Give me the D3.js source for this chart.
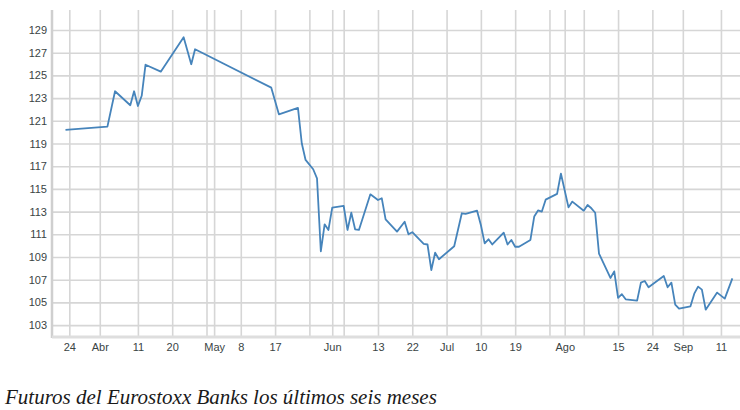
<!DOCTYPE html>
<html><head><meta charset="utf-8">
<script src="https://cdn.jsdelivr.net/npm/d3@7"></script>
<style>
html,body{margin:0;padding:0;background:#fff;}
svg{display:block;}
</style></head>
<body>
<svg id="chart" width="740" height="410"></svg>
<script>
const dates = ["2018-03-23","2018-04-03","2018-04-05","2018-04-09","2018-04-10","2018-04-11","2018-04-12","2018-04-13","2018-04-17","2018-04-23","2018-04-25","2018-04-26","2018-05-16","2018-05-18","2018-05-23","2018-05-24","2018-05-25","2018-05-27","2018-05-28","2018-05-29","2018-05-30","2018-05-31","2018-06-01","2018-06-04","2018-06-05","2018-06-06","2018-06-07","2018-06-08","2018-06-11","2018-06-13","2018-06-14","2018-06-15","2018-06-18","2018-06-20","2018-06-21","2018-06-22","2018-06-25","2018-06-26","2018-06-27","2018-06-28","2018-06-29","2018-07-03","2018-07-05","2018-07-06","2018-07-09","2018-07-10","2018-07-11","2018-07-12","2018-07-13","2018-07-16","2018-07-17","2018-07-18","2018-07-19","2018-07-20","2018-07-23","2018-07-24","2018-07-25","2018-07-26","2018-07-27","2018-07-30","2018-07-31","2018-08-02","2018-08-03","2018-08-06","2018-08-07","2018-08-08","2018-08-09","2018-08-10","2018-08-13","2018-08-14","2018-08-15","2018-08-16","2018-08-17","2018-08-20","2018-08-21","2018-08-22","2018-08-23","2018-08-27","2018-08-28","2018-08-29","2018-08-30","2018-08-31","2018-09-03","2018-09-04","2018-09-05","2018-09-06","2018-09-07","2018-09-10","2018-09-12","2018-09-14"];
const values = [120.19,120.48,123.6,122.37,123.6,122.3,123.2,125.94,125.33,128.36,125.98,127.3,123.92,121.57,122.13,119.02,117.55,116.73,115.93,109.5,111.88,111.38,113.35,113.5,111.38,112.9,111.44,111.38,114.52,114.02,114.17,112.32,111.23,112.11,111.0,111.18,110.15,110.1,107.85,109.38,108.8,109.95,112.85,112.79,113.08,111.82,110.2,110.56,110.1,111.14,110.1,110.5,109.9,109.9,110.5,112.56,113.1,113.0,114.05,114.56,116.35,113.37,113.88,113.08,113.58,113.29,112.9,109.3,107.15,107.73,105.4,105.72,105.27,105.15,106.74,106.88,106.33,107.33,106.33,106.74,104.8,104.45,104.65,105.77,106.39,106.12,104.36,105.86,105.33,107.12];
const tickDates = ["2018-03-24","2018-04-01","2018-04-11","2018-04-20","2018-04-29","2018-05-01","2018-05-08","2018-05-17","2018-05-26","2018-06-01","2018-06-04","2018-06-13","2018-06-22","2018-07-01","2018-07-10","2018-07-19","2018-07-28","2018-08-01","2018-08-06","2018-08-15","2018-08-24","2018-09-01","2018-09-11"];
const tickLabels = ["24","Abr","11","20","","May","8","17","","Jun","","13","22","Jul","10","19","","Ago","","15","24","Sep","11"];
const yTicks = [103,105,107,109,111,113,115,117,119,121,123,125,127,129];
const caption = "Futuros del Eurostoxx Banks los últimos seis meses";

const parse = d3.utcParse("%Y-%m-%d");
const parseT = d3.utcParse("%Y-%m-%dT%H:%M");
const data = dates.map((d,i)=>({date:parse(d), value:values[i]}));

const L = 52, R = 740, T = 10, B = 337;
const svg = d3.select("#chart");

const x = d3.scaleUtc()
  .domain([parseT("2018-03-19T11:00"), parseT("2018-09-16T00:00")])
  .range([L, R]);
const y = d3.scaleLinear().domain([101.95, 130.76]).range([B, T]);

const font = "Arial, 'Liberation Sans', sans-serif";

// horizontal grid + y labels
const yAxis = d3.axisLeft(y).tickValues(yTicks).tickSize(-(R-L)).tickPadding(5).tickFormat(d3.format("d"));
const gy = svg.append("g").attr("transform",`translate(${L},0)`).call(yAxis);
gy.select(".domain").remove();
gy.selectAll(".tick line").attr("stroke","#d6d6d6").attr("stroke-width",1.6);
gy.selectAll(".tick text").attr("fill","#3a4444").attr("font-family",font).attr("font-size","11px");

// vertical grid + x labels
const xAxis = d3.axisBottom(x).tickValues(tickDates.map(parse)).tickSize(-(B-T))
  .tickPadding(6).tickFormat((d,i)=>tickLabels[i]);
const gx = svg.append("g").attr("transform",`translate(0,${B})`).call(xAxis);
gx.select(".domain").remove();
gx.selectAll(".tick line").attr("stroke","#d6d6d6").attr("stroke-width",1.6);
gx.selectAll(".tick text").attr("fill","#3a4444").attr("font-family",font).attr("font-size","11px");

// axis lines
svg.append("line").attr("x1",L).attr("x2",L).attr("y1",T).attr("y2",B+1)
  .attr("stroke","#cfcfcf").attr("stroke-width",2.5);
svg.append("line").attr("x1",L).attr("x2",R).attr("y1",B).attr("y2",B)
  .attr("stroke","#dedede").attr("stroke-width",3);

// line
const line = d3.line().x(d=>x(d.date)).y(d=>y(d.value));
svg.append("path").datum(data).attr("d",line)
  .attr("fill","none").attr("stroke","#4684bb").attr("stroke-width",1.8)
  .attr("stroke-linejoin","round");

// caption
svg.append("text").attr("x",5).attr("y",404).text(caption)
  .attr("font-family","'Times New Roman','Liberation Serif',serif")
  .attr("font-style","italic").attr("font-size","21px").attr("fill","#1a1a1a");
</script>
</body></html>
